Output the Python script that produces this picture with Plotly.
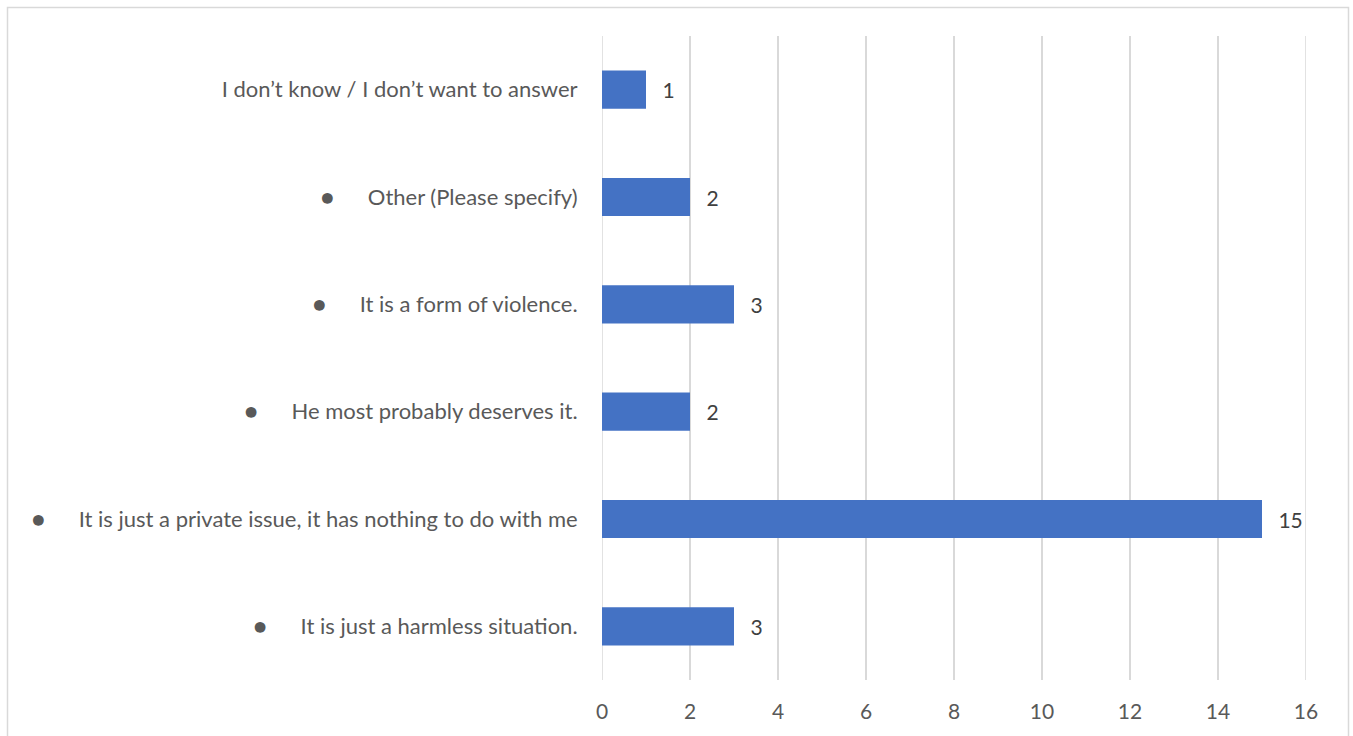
import plotly.graph_objects as go

categories = [
    "It is just a harmless situation.",
    "It is just a private issue, it has nothing to do with me",
    "He most probably deserves it.",
    "It is a form of violence.",
    "Other (Please specify)",
    "I don\u2019t know / I don\u2019t want to answer",
]
bulleted = [True, True, True, True, True, False]
values = [3, 15, 2, 3, 2, 1]
x_ticks = [0, 2, 4, 6, 8, 10, 12, 14, 16]

GAP = "\u00a0" * 6
labels = [("\u25cf" + GAP + c) if b else c for c, b in zip(categories, bulleted)]

fig = go.Figure(go.Bar(
    x=values, y=labels, orientation="h",
    marker=dict(color="#4472C4", line=dict(width=0)),
    width=0.355,
    text=["\u00a0\u00a0\u2009" + str(v) for v in values],
    textposition="outside",
    textfont=dict(family="Lato", size=21, color="#404040"),
    cliponaxis=False,
))

W, H = 1353, 736
L, R, T, B = 602, 47, 36, 56
pw, ph = W - L - R, H - T - B

edge_lines = [dict(
    type="line", xref="x", yref="paper", x0=v, x1=v, y0=0, y1=1,
    line=dict(color="#D9D9D9", width=1.5), layer="below",
) for v in (x_ticks[0], x_ticks[-1])]

fig.update_layout(
    width=W, height=H,
    margin=dict(l=L, r=R, t=T, b=B, pad=0),
    paper_bgcolor="white", plot_bgcolor="white",
    font=dict(family="Lato", size=22, color="#595959"),
    showlegend=False,
    xaxis=dict(
        range=[0, 16], tickvals=x_ticks, showgrid=True, gridcolor="#D9D9D9", gridwidth=1.5,
        zeroline=False, showline=False, ticks="outside", ticklen=13,
        tickcolor="rgba(0,0,0,0)", tickfont=dict(size=21, color="#595959"),
    ),
    yaxis=dict(
        type="category", showgrid=False, zeroline=False, showline=False,
        ticks="outside", ticklen=19, tickcolor="rgba(0,0,0,0)",
        tickfont=dict(size=22, color="#595959"),
    ),
    shapes=edge_lines + [dict(
        type="rect", xref="paper", yref="paper",
        x0=(7.5 - L) / pw, x1=(1348.5 - L) / pw,
        y0=(H - B - 760) / ph, y1=(H - B - 7.5) / ph,
        line=dict(color="#D9D9D9", width=1.5), fillcolor="rgba(0,0,0,0)", layer="below",
    )],
)
fig.write_html("out.html")
